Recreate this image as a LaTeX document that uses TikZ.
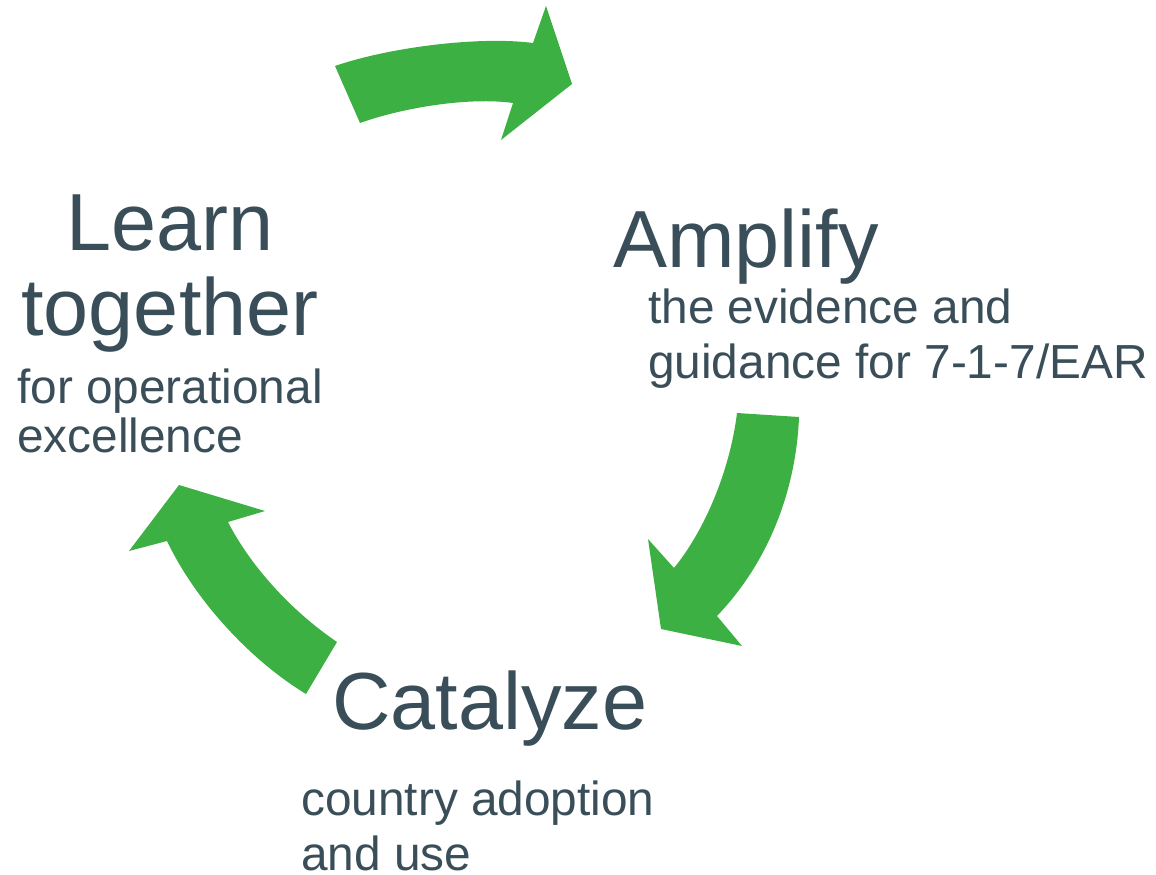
\documentclass[tikz,border=0pt]{standalone}
\usepackage{fontspec}
\setmainfont{Liberation Sans}
\usepackage{tikz}
\usetikzlibrary{positioning}

\definecolor{cyclegreen}{RGB}{61,176,67}
\definecolor{slatetext}{RGB}{57,78,88}

\begin{document}
\begin{tikzpicture}[x=1pt,y=-1pt]
  \tikzstyle{big}=[text=slatetext,inner sep=0pt,font={\fontsize{81}{85}\selectfont}]
  \tikzstyle{small}=[text=slatetext,inner sep=0pt,align=left]
  \tikzstyle{bend arrow}=[fill=cyclegreen,draw=none]

    \useasboundingbox (0,0) rectangle (1156,875);

    % arrows
    \path[bend arrow] (335,66) .. controls (390,47) and (480,36) .. (533,43)
      -- (546,6) -- (572,84) -- (501,140) -- (513,103)
      .. controls (470,97) and (405,107) .. (360,123) -- cycle;
    \path[bend arrow] (737,413) -- (799,417)
      .. controls (797,470) and (780,550) .. (717,616)
      -- (742,646) -- (661,629) -- (648,539) -- (674,568)
      .. controls (705,530) and (730,470) .. cycle;
    \path[bend arrow] (337,642) -- (306,694)
      .. controls (250,660) and (195,600) .. (167,541)
      -- (129,551) -- (179,485) -- (265,511) -- (228,522)
      .. controls (250,565) and (290,610) .. cycle;

    % labels (base = last line)
    \node[big,align=center,anchor=base] (learn) at (170,335) {Learn\\together};
    \node[small,anchor=base west,font={\fontsize{47.8}{49}\selectfont}] (learnsub) at (17,452)
      {for operational\\excellence};
    \node[big,anchor=base west] (amplify) at (613,267) {Amplify};
    \node[small,anchor=base west,font={\fontsize{47.8}{55}\selectfont}] (amplifysub) at (648,378)
      {the evidence and\\guidance for 7-1-7/EAR};
    \node[big,anchor=base west] (catalyze) at (332,729) {Catalyze};
    \node[small,anchor=base west,font={\fontsize{47.8}{55}\selectfont}] (catalyzesub) at (301,870)
      {country adoption\\and use};

\end{tikzpicture}
\end{document}
